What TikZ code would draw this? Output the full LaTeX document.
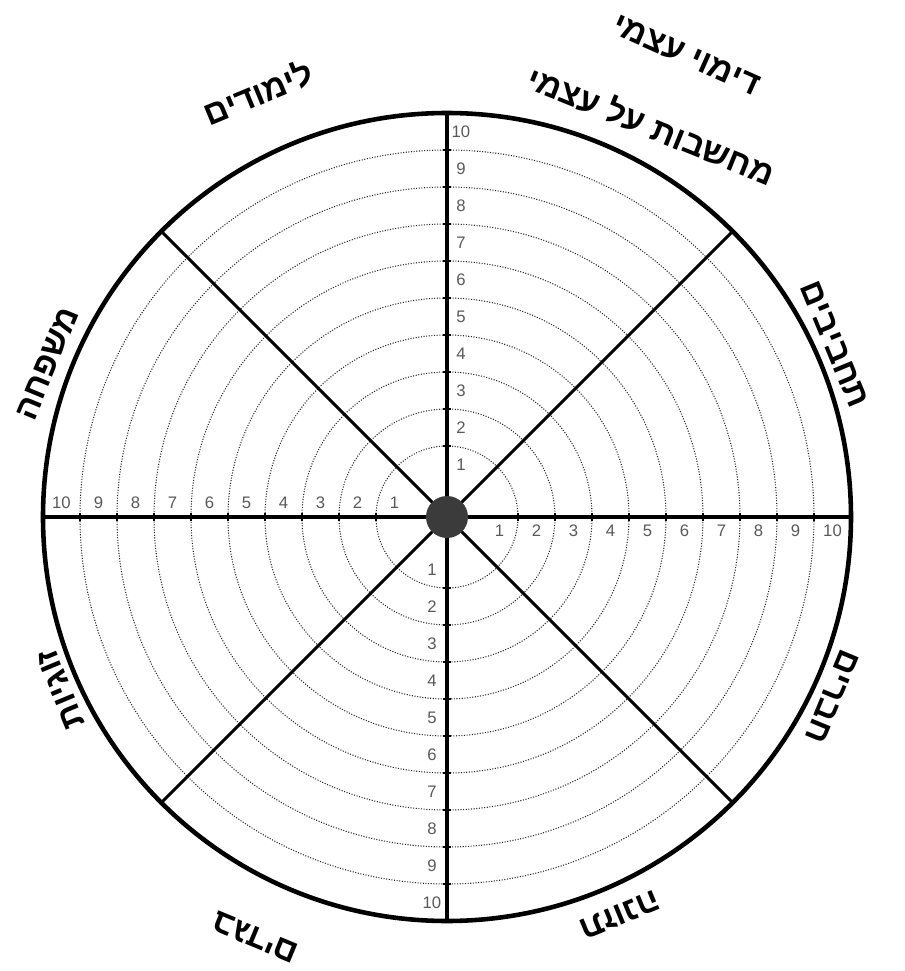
\documentclass[tikz,border=0pt]{standalone}
\usepackage{fontspec}
\setmainfont{Liberation Sans}
\newfontfamily\hebfont[Script=Hebrew]{Liberation Sans}
\TeXXeTstate=1

\begin{document}
\begin{tikzpicture}[
  x=0.2mm, y=0.2mm,
  ring/.style={black!85, line width=0.6pt, dash pattern=on 0.6pt off 0.9pt},
  spoke/.style={line width=1.8pt},
  rim/.style={line width=2.6pt},
  tickmark/.style={line width=1.1pt},
  hub/.style={circle, fill=black!77, inner sep=0pt, minimum size=8.4mm},
  num/.style={text=black!65, font=\fontsize{9.5}{11}\selectfont, inner sep=0pt},
  area/.style={font=\hebfont\bfseries\fontsize{19}{22}\selectfont, inner sep=0pt}
]
\useasboundingbox (-447,-454) rectangle (457,517);
\coordinate (c) at (0,0);

% dotted rings
\foreach \k in {1,...,9}
  \draw[ring] (c) circle ({34+37*\k});

% spokes and rim
\foreach \a in {0,45,...,315} {
  \coordinate (rim\a) at (\a:404);
  \draw[spoke] (c) -- (rim\a);
}
\draw[rim] (c) circle (404);

% ticks where the rings cross the axes
\foreach \k in {1,...,9} {
  \draw[tickmark] ({34+37*\k},-4) -- ({34+37*\k},4);
  \draw[tickmark] ({-34-37*\k},-4) -- ({-34-37*\k},4);
  \draw[tickmark] (-4,{34+37*\k}) -- (4,{34+37*\k});
  \draw[tickmark] (-4,{-34-37*\k}) -- (4,{-34-37*\k});
}

% scale numbers
\foreach \k in {1,...,10} {
  \node[num] (e\k) at ({15.5+37*\k},-14) {\k};
  \node[num] (w\k) at ({-15.5-37*\k},14) {\k};
  \node[num] (n\k) at (14,{15.5+37*\k}) {\k};
  \node[num] (s\k) at (-15,{-15.5-37*\k}) {\k};
}
\node[hub] (hub) at (c) {};

% areas of life
\node[area, rotate=-24] (image)    at (62.6:520) {\beginR דימוי עצמי\endR};
\node[area, rotate=-22] (thoughts) at (62.4:442) {\beginR מחשבות על עצמי\endR};
\node[area, rotate=22.5]  (studies)  at (114:465) {\beginR לימודים\endR};
\node[area, rotate=67.5]  (family)   at (159:428) {\beginR משפחה\endR};
\node[area, rotate=112.5] (couple)   at (204:423) {\beginR זוגיות\endR};
\node[area, rotate=157.5] (clothes)  at (245.5:462) {\beginR בגדים\endR};
\node[area, rotate=202.5] (food)     at (293.5:434) {\beginR תזונה\endR};
\node[area, rotate=247.5] (friends)  at (335:425) {\beginR חברים\endR};
\node[area, rotate=-67.5] (hobbies)  at (24:424) {\beginR תחביבים\endR};
\end{tikzpicture}
\end{document}
